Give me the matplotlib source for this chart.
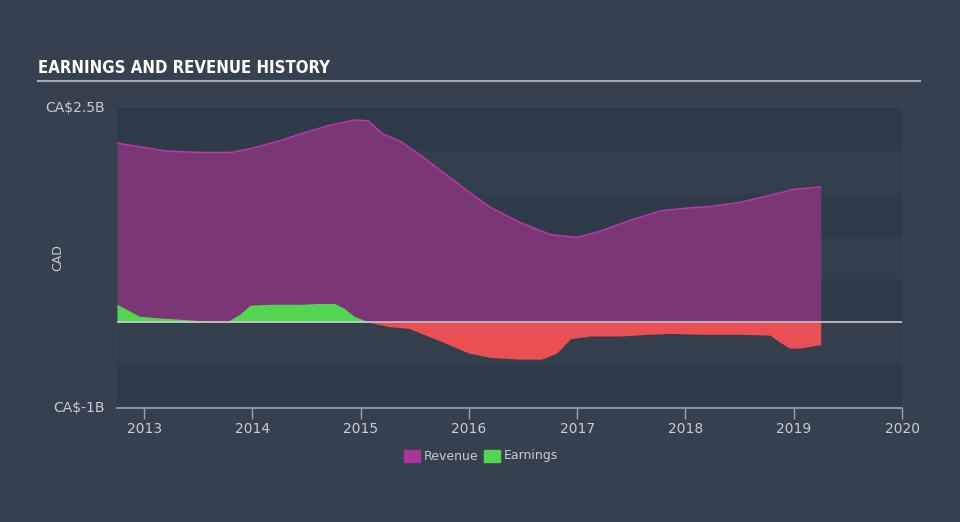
import matplotlib.pyplot as plt
import numpy as np

# data (decimal years, CA$ billions)
rev_t = [2012.75, 2013.0, 2013.19, 2013.52, 2013.8, 2014.0, 2014.26, 2014.45,
         2014.72, 2014.95, 2015.07, 2015.2, 2015.37, 2015.55, 2015.74, 2016.0,
         2016.2, 2016.48, 2016.76, 2017.0, 2017.21, 2017.49, 2017.77, 2018.0,
         2018.23, 2018.51, 2018.78, 2019.0, 2019.25]
rev_v = [2.09, 2.04, 2.0, 1.98, 1.98, 2.03, 2.12, 2.2,
         2.3, 2.36, 2.35, 2.2, 2.11, 1.95, 1.77, 1.52,
         1.34, 1.16, 1.02, 0.99, 1.06, 1.19, 1.30, 1.33,
         1.35, 1.40, 1.48, 1.55, 1.58]

earn_t = [2012.75, 2012.96, 2013.15, 2013.52, 2013.77, 2013.88, 2013.98, 2014.16,
          2014.44, 2014.62, 2014.76, 2014.85, 2014.94, 2015.08, 2015.26, 2015.44,
          2015.72, 2016.0, 2016.2, 2016.48, 2016.67, 2016.81, 2016.94, 2017.12,
          2017.4, 2017.67, 2017.86, 2018.14, 2018.51, 2018.78, 2018.87, 2018.96,
          2019.06, 2019.25]
earn_v = [0.21, 0.07, 0.05, 0.02, 0.01, 0.09, 0.20, 0.21,
          0.21, 0.22, 0.22, 0.16, 0.07, 0.0, -0.05, -0.07,
          -0.21, -0.36, -0.41, -0.43, -0.43, -0.36, -0.19, -0.16,
          -0.16, -0.14, -0.13, -0.14, -0.14, -0.15, -0.23, -0.30,
          -0.30, -0.26]

years = [2013, 2014, 2015, 2016, 2017, 2018, 2019, 2020]

bg = '#35414f'
plot_bg = '#333f4d'
band = '#2f3b49'
text_c = '#c8ccd2'

fig = plt.figure(figsize=(9.6, 5.22), dpi=100, facecolor=bg)
ax = fig.add_axes([117/960, 114/522, 785/960, 300/522])
ax.set_facecolor(plot_bg)

# alternating background bands
for lo in np.arange(-1.0, 2.5, 1.0):
    ax.axhspan(lo, lo + 0.5, color=band, lw=0, zorder=0)

rt = np.array(rev_t)
rv = np.array(rev_v)
ax.fill_between(rt, 0, rv, color='#7b3775', lw=0, zorder=2)
ax.plot(rt, rv, color='#b03aa0', lw=1.2, zorder=3)

et = np.array(earn_t)
ev = np.array(earn_v)
ax.fill_between(et, 0, ev, where=ev >= 0, interpolate=True, color='#52d651', lw=0, zorder=4)
ax.fill_between(et, 0, ev, where=ev <= 0, interpolate=True, color='#ea4f54', lw=0, zorder=4)

ax.axhline(0, color='#c9c9c9', lw=1.2, zorder=5)

ax.set_xlim(2012.75, 2020.0)
ax.set_ylim(-1.0, 2.5)

for s in ['top', 'right', 'left']:
    ax.spines[s].set_visible(False)
ax.spines['bottom'].set_color('#9aa4b0')
ax.spines['bottom'].set_linewidth(1.2)

ax.set_xticks(years)
ax.set_xticklabels([str(y) for y in years], fontsize=10, color=text_c)
ax.tick_params(axis='x', colors='#9aa4b0', length=8, width=1, labelcolor=text_c, pad=2)
ax.set_yticks([])

ax.text(-0.015, 1.0, 'CA$2.5B', transform=ax.transAxes, ha='right', va='center',
        fontsize=10, color=text_c)
ax.text(-0.015, 0.0, 'CA$-1B', transform=ax.transAxes, ha='right', va='center',
        fontsize=10, color=text_c)
ax.text(-0.075, 0.5, 'CAD', transform=ax.transAxes, ha='center', va='center',
        rotation=90, fontsize=9, color=text_c)

# title and rule
fig.text(38/960, 1 - 68/522, 'EARNINGS AND REVENUE HISTORY', ha='left', va='center',
         fontsize=12, fontweight='bold', color='white', fontstretch='condensed',
         family=['DejaVu Sans'])
fig.add_artist(plt.Line2D([38/960, 920/960], [1 - 81/522, 1 - 81/522],
                          color='#a9adb3', lw=1.5))

# legend
fig.patches.append(plt.Rectangle((404/960, 1 - 462/522), 16/960, 12/522,
                                 transform=fig.transFigure, color='#a8369b'))
fig.text(424/960, 1 - 456/522, 'Revenue', ha='left', va='center', fontsize=9, color=text_c)
fig.patches.append(plt.Rectangle((484/960, 1 - 462/522), 16/960, 12/522,
                                 transform=fig.transFigure, color='#52d651'))
fig.text(504/960, 1 - 456/522, 'Earnings', ha='left', va='center', fontsize=9, color=text_c)

fig.savefig('out.png', dpi=100, facecolor=bg)
